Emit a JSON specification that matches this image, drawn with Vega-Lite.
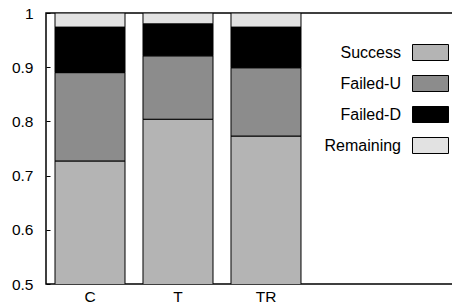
{
  "$schema": "https://vega.github.io/schema/vega-lite/v6.json",
  "width": 407,
  "height": 271,
  "autosize": {"type": "none"},
  "padding": {"left": 46, "top": 13, "right": 0, "bottom": 24},
  "background": "white",
  "config": {
    "view": {"stroke": "#000", "strokeWidth": 1.5},
    "font": "Liberation Sans",
    "axis": {"labelFont": "Liberation Sans", "labelColor": "#000", "domainColor": "#000", "tickColor": "#000", "grid": false, "title": null}
  },
  "data": {"values": [
    {"cat": "C", "status": "Success", "rank": 0, "frac": 0.727},
    {"cat": "C", "status": "Failed-U", "rank": 1, "frac": 0.163},
    {"cat": "C", "status": "Failed-D", "rank": 2, "frac": 0.084},
    {"cat": "C", "status": "Remaining", "rank": 3, "frac": 0.026},
    {"cat": "T", "status": "Success", "rank": 0, "frac": 0.804},
    {"cat": "T", "status": "Failed-U", "rank": 1, "frac": 0.117},
    {"cat": "T", "status": "Failed-D", "rank": 2, "frac": 0.059},
    {"cat": "T", "status": "Remaining", "rank": 3, "frac": 0.020},
    {"cat": "TR", "status": "Success", "rank": 0, "frac": 0.773},
    {"cat": "TR", "status": "Failed-U", "rank": 1, "frac": 0.126},
    {"cat": "TR", "status": "Failed-D", "rank": 2, "frac": 0.075},
    {"cat": "TR", "status": "Remaining", "rank": 3, "frac": 0.026}
  ]},
  "mark": {"type": "bar", "stroke": "#000", "strokeWidth": 1, "clip": true},
  "encoding": {
    "x": {
      "field": "cat", "type": "nominal", "sort": ["C", "T", "TR"],
      "scale": {"range": [0, 264], "paddingInner": 0.2045, "paddingOuter": 0.1023},
      "axis": {"labelAngle": 0, "ticks": false, "labelFontSize": 15.5, "labelPadding": 5, "domain": false}
    },
    "y": {
      "field": "frac", "type": "quantitative", "stack": "zero",
      "scale": {"domain": [0.5, 1], "nice": false, "zero": false},
      "axis": {"values": [0.5, 0.6, 0.7, 0.8, 0.9, 1], "format": "~g", "labelFontSize": 15.5, "tickSize": -4, "labelPadding": 17, "domain": false}
    },
    "order": {"field": "rank", "type": "quantitative"},
    "fill": {
      "field": "status", "type": "nominal",
      "scale": {"domain": ["Success", "Failed-U", "Failed-D", "Remaining"], "range": ["#b4b4b4", "#8c8c8c", "#000000", "#e2e2e2"]},
      "legend": {
        "orient": "none", "legendX": 376, "legendY": 31, "title": null, "padding": 0,
        "symbolType": "M-2.25,-1H2.25V1H-2.25Z", "symbolSize": 256, "symbolStrokeColor": "#000", "symbolStrokeWidth": 1,
        "labelFontSize": 16, "labelAlign": "right", "labelOffset": -38, "rowPadding": 10, "labelColor": "#000"
      }
    }
  }
}
